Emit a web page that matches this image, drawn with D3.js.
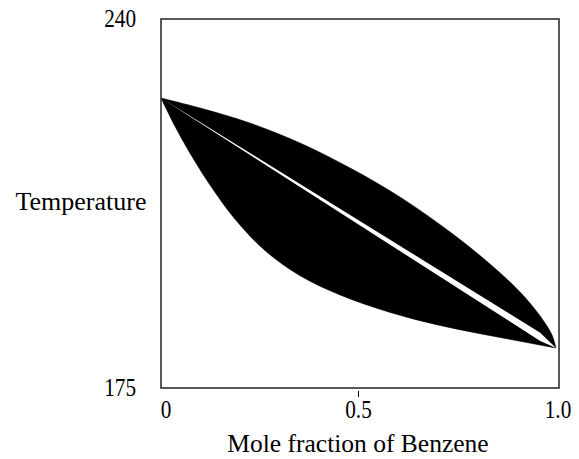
<!DOCTYPE html>
<html><head><meta charset="utf-8">
<script src="https://cdn.jsdelivr.net/npm/d3@7"></script>
<style>html,body{margin:0;padding:0;background:#fff;}svg{display:block;}</style>
</head><body>
<script>
// Data (mole fraction of benzene, temperature)
const vaporX = [0, 0.099, 0.225, 0.352, 0.479, 0.605, 0.732, 0.833, 0.909, 0.960, 0.990, 1.0];
const vaporT = [226.08, 224.32, 221.68, 218.16, 213.75, 208.65, 202.48, 196.84, 191.91, 187.68, 184.34, 182.05];
const liquidX = [0, 0.035, 0.073, 0.124, 0.187, 0.263, 0.352, 0.453, 0.580, 0.706, 0.858, 1.0];
const liquidT = [226.08, 221.15, 216.40, 210.76, 204.77, 199.22, 194.78, 191.40, 188.32, 186.03, 183.91, 182.05];
const gapX = [0, 0.96, 1.0];
const gapTopT = [226.08, 184.75, 182.05];
const gapBottomT = [226.08, 183.3, 182.05];
const xTicks = [0, 0.5, 1.0];
const xTickLabels = ["0", "0.5", "1.0"];
const yTicks = [240, 175];
const yTickLabels = ["240", "175"];
const xTitle = "Mole fraction of Benzene";
const yTitle = "Temperature";

const W = 579, H = 459;
const L = 161, R = 559, T = 19, B = 388;
const svg = d3.select("body").append("svg").attr("width", W).attr("height", H);

const x = d3.scaleLinear().domain([0, 1]).range([L, 556]);
const y = d3.scaleLinear().domain([175, 240]).range([B, T]);

const vap = vaporX.map((v, i) => [v, vaporT[i]]);
const liq = liquidX.map((v, i) => [v, liquidT[i]]).reverse();
const line = d3.line().x(d => x(d[0])).y(d => y(d[1])).curve(d3.curveCatmullRom.alpha(0.5));
const p1 = line(vap);
const p2 = line(liq).replace(/^M/, "L");
svg.append("path").attr("d", p1 + p2 + "Z").attr("fill", "#000").attr("stroke", "#000").attr("stroke-width", 0.5);

// white gap between the two regions
const gTop = gapX.map((v, i) => [v, gapTopT[i]]);
const gBot = gapX.map((v, i) => [v, gapBottomT[i]]).reverse();
const lin = d3.line().x(d => x(d[0])).y(d => y(d[1]));
svg.append("path").attr("d", lin(gTop) + lin(gBot).replace(/^M/, "L") + "Z").attr("fill", "#fff");

// frame
svg.append("rect").attr("x", L).attr("y", T).attr("width", R - L).attr("height", B - T)
  .attr("fill", "none").attr("stroke", "#222").attr("stroke-width", 1.5);

// x tick mark at 0.5
svg.append("line").attr("x1", x(0.5)).attr("x2", x(0.5)).attr("y1", B + 3).attr("y2", B + 9)
  .attr("stroke", "#000").attr("stroke-width", 1);

const font = "'Liberation Serif', 'Times New Roman', serif";
svg.selectAll("text.xt").data(xTicks).enter().append("text")
  .attr("transform", (d, i) => `translate(${x(d) + (i === 0 ? 5 : i === 2 ? 2 : 0)},418) scale(0.85,1)`)
  .attr("text-anchor", "middle")
  .attr("font-family", font).attr("font-size", 25).attr("fill", "#000")
  .text((d, i) => xTickLabels[i]);
svg.selectAll("text.yt").data(yTicks).enter().append("text")
  .attr("transform", d => `translate(136,${y(d) + 8}) scale(0.85,1)`)
  .attr("text-anchor", "end")
  .attr("font-family", font).attr("font-size", 25).attr("fill", "#000")
  .text((d, i) => yTickLabels[i]);

svg.append("text").attr("x", 358).attr("y", 452).attr("text-anchor", "middle")
  .attr("font-family", font).attr("font-size", 25.5).attr("fill", "#000").text(xTitle);
svg.append("text").attr("x", 81).attr("y", 210).attr("text-anchor", "middle")
  .attr("font-family", font).attr("font-size", 26).attr("fill", "#000").text(yTitle);
</script>
</body></html>
